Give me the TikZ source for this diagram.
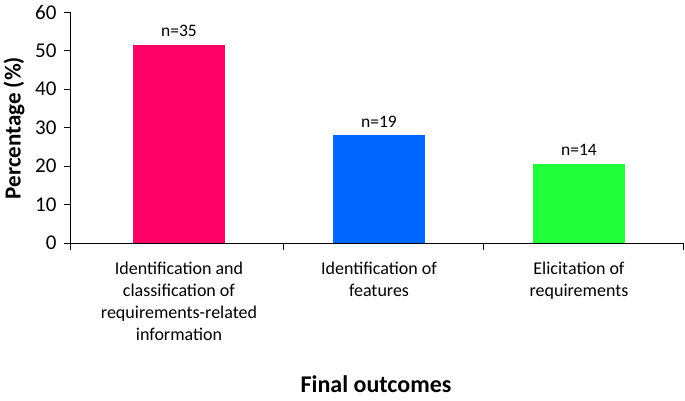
\documentclass[tikz,border=0pt]{standalone}
\usepackage{fontspec}
\setmainfont{Carlito}
\begin{document}
\begin{tikzpicture}[x=1pt,y=-1pt,
  bar/.style={draw=none,minimum width=92pt,anchor=south,inner sep=0pt},
  tl/.style={font=\fontsize{21}{21}\selectfont,anchor=east},
  cl/.style={font=\fontsize{18}{22}\selectfont,align=center,anchor=north},
  nl/.style={font=\fontsize{17.5}{17.5}\selectfont,anchor=south}]
\useasboundingbox (0,0) rectangle (685,400);
% axes
\draw[line width=0.8pt] (70,12) -- (70,243) -- (683,243);
\foreach \v in {0,10,...,60}{
  \pgfmathsetmacro\yy{243-3.85*\v}
  \draw[line width=0.8pt] (64,\yy) -- (70,\yy);
  \node[tl] at (60,\yy) {\v};
}
\foreach \x in {70,283,483,683}{\draw[line width=0.8pt] (\x,243) -- (\x,250);}
% bars
\node[bar,fill={rgb,255:red,255;green,0;blue,102},minimum height=198.3pt] (b1) at (179,243) {};
\node[bar,fill={rgb,255:red,0;green,102;blue,255},minimum height=107.8pt] (b2) at (379,243) {};
\node[bar,fill={rgb,255:red,34;green,255;blue,59},minimum height=79.3pt] (b3) at (579,243) {};
\node[nl] (n1) at ([yshift=4pt]b1.north) {n=35};
\node[nl] (n2) at ([yshift=4pt]b2.north) {n=19};
\node[nl] (n3) at ([yshift=4pt]b3.north) {n=14};
% categories
\node[cl] (c1) at (179,258) {Identification and\\classification of\\requirements-related\\information};
\node[cl] (c2) at (379,258) {Identification of\\features};
\node[cl] (c3) at (579,258) {Elicitation of\\requirements};
\node[font=\bfseries\fontsize{24}{24}\selectfont] (xt) at (376,384) {Final outcomes};
\node[font=\bfseries\fontsize{23}{23}\selectfont,rotate=90] (yt) at (14,128) {Percentage (\%)};
\end{tikzpicture}
\end{document}
